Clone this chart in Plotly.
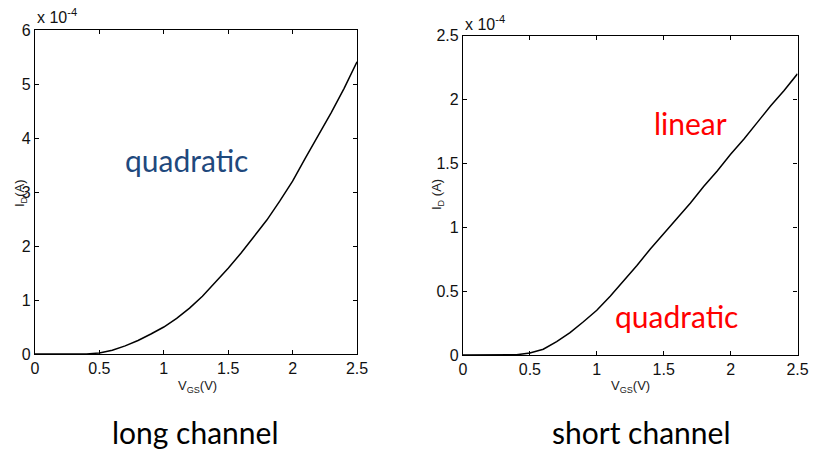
import plotly.graph_objects as go

# ---- data ----
vgs = [0.0, 0.1, 0.2, 0.3, 0.4, 0.5, 0.6, 0.7, 0.8, 0.9, 1.0, 1.1, 1.2, 1.3,
       1.4, 1.5, 1.6, 1.7, 1.8, 1.9, 2.0, 2.1, 2.2, 2.3, 2.4, 2.5]
id_long = [0.0, 0.0, 0.0, 0.0, 0.002, 0.02, 0.07, 0.15, 0.25, 0.37, 0.5, 0.66,
           0.85, 1.07, 1.32, 1.59, 1.87, 2.17, 2.48, 2.83, 3.2, 3.63, 4.05,
           4.47, 4.92, 5.41]
id_short = [0.0, 0.0, 0.0, 0.0, 0.002, 0.015, 0.045, 0.105, 0.175, 0.26, 0.35,
            0.46, 0.58, 0.70, 0.83, 0.95, 1.07, 1.19, 1.32, 1.44, 1.57, 1.69,
            1.82, 1.95, 2.07, 2.2]
x_ticks = [0, 0.5, 1, 1.5, 2, 2.5]
x_ticklabels = ["0", "0.5", "1", "1.5", "2", "2.5"]
y_ticks_long = [0, 1, 2, 3, 4, 5, 6]
y_ticks_short = [0, 0.5, 1, 1.5, 2, 2.5]
y_ticklabels_short = ["0", "0.5", "1", "1.5", "2", "2.5"]

W, H = 813, 451

def px(x):
    return x / W

def py(y):
    return 1 - y / H

fig = go.Figure()
fig.add_trace(go.Scatter(x=vgs, y=id_long, mode="lines",
                         line=dict(color="black", width=1.5),
                         xaxis="x", yaxis="y", showlegend=False))
fig.add_trace(go.Scatter(x=vgs, y=id_short, mode="lines",
                         line=dict(color="black", width=1.5),
                         xaxis="x2", yaxis="y2", showlegend=False))

tickfont = dict(family="Liberation Sans, Arial, sans-serif", size=16, color="#111")
ax_common = dict(showline=True, linecolor="black", linewidth=1.2, mirror="ticks",
                 ticks="inside", ticklen=4, tickcolor="black", showgrid=False,
                 zeroline=False, tickfont=tickfont, fixedrange=True,
                 automargin=False)

fig.update_layout(
    width=W, height=H,
    margin=dict(l=0, r=0, t=0, b=0, autoexpand=False),
    paper_bgcolor="white", plot_bgcolor="white",
    xaxis=dict(domain=[px(35), px(357)], range=[0, 2.5], tickvals=x_ticks,
               ticktext=x_ticklabels, anchor="y", **ax_common),
    yaxis=dict(domain=[py(354), py(30)], range=[0, 6], tickvals=y_ticks_long,
               anchor="x", **ax_common),
    xaxis2=dict(domain=[px(463), px(797.5)], range=[0, 2.5], tickvals=x_ticks,
                ticktext=x_ticklabels, anchor="y2", **ax_common),
    yaxis2=dict(domain=[py(355), py(35.5)], range=[0, 2.5], tickvals=y_ticks_short,
                ticktext=y_ticklabels_short, anchor="x2", **ax_common),
)

small = dict(family="Liberation Sans, Arial, sans-serif", size=13, color="#222")
big = "Lato, Open Sans, sans-serif"
annots = [
    dict(x=px(35), y=py(16), text="x 10<sup>-4</sup>", font=dict(family=small["family"], size=16, color="#111"), xanchor="left"),
    dict(x=px(463), y=py(23), text="x 10<sup>-4</sup>", font=dict(family=small["family"], size=16, color="#111"), xanchor="left"),
    dict(x=px(20), y=py(193), text="I<sub>D</sub>(A)", textangle=-90, font=small),
    dict(x=px(437), y=py(195), text="I<sub>D</sub> (A)", textangle=-90, font=small),
    dict(x=px(197), y=py(386), text="V<sub>GS</sub>(V)", font=small),
    dict(x=px(630), y=py(386), text="V<sub>GS</sub>(V)", font=small),
    dict(x=px(186), y=py(160), text="quadratic", font=dict(family=big, size=30, color="#1F497D")),
    dict(x=px(690), y=py(123), text="linear", font=dict(family=big, size=30, color="#FF0000")),
    dict(x=px(676), y=py(316), text="quadratic", font=dict(family=big, size=30, color="#FF0000")),
    dict(x=px(195), y=py(432), text="long channel", font=dict(family=big, size=30, color="black")),
    dict(x=px(641), y=py(432), text="short channel", font=dict(family=big, size=30, color="black")),
]
for a in annots:
    a.update(xref="paper", yref="paper", showarrow=False)
    a.setdefault("xanchor", "center")
    a.setdefault("yanchor", "middle")
fig.update_layout(annotations=annots)

fig.write_html("out.html", config={"displayModeBar": False},
               post_script="document.body.style.margin='0';document.body.style.overflow='hidden';")
